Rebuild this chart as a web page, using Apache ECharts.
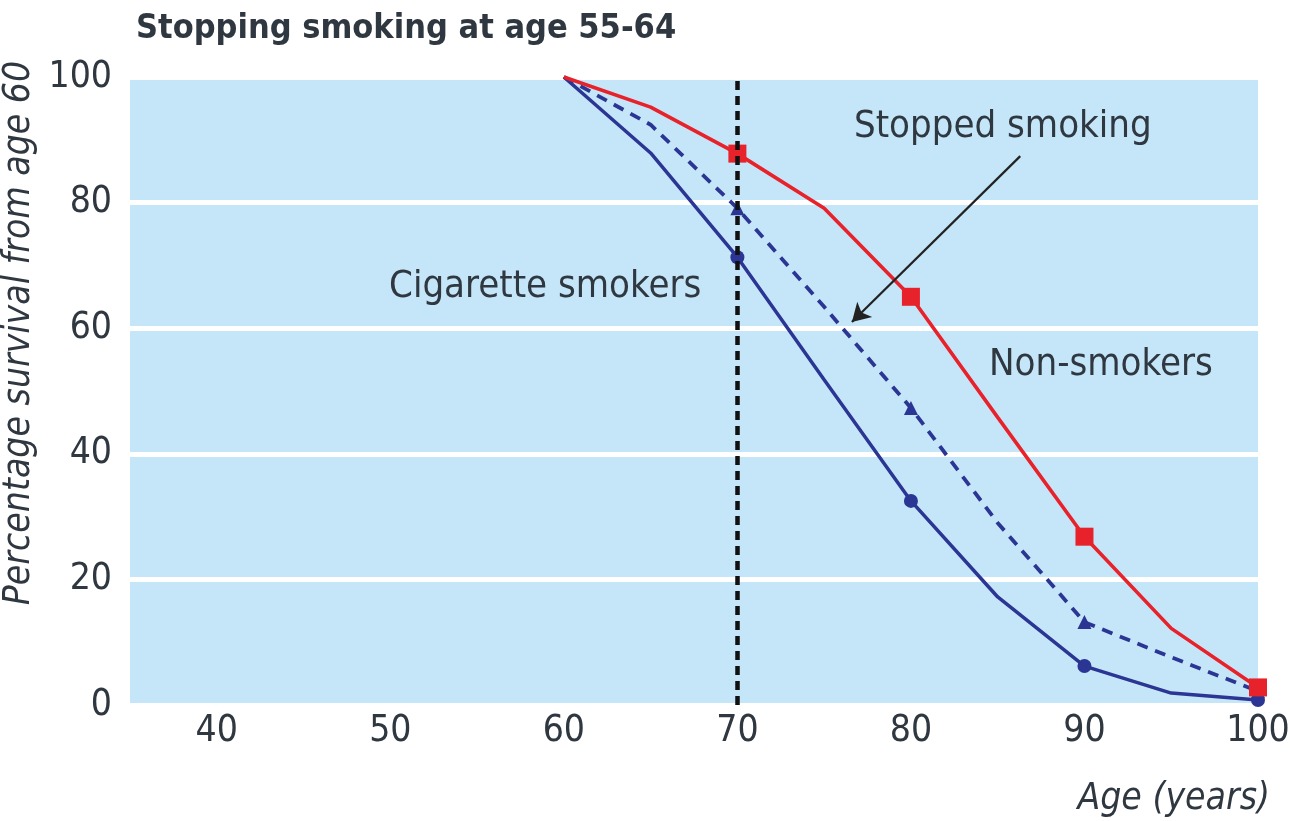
<!DOCTYPE html>
<html>
<head>
<meta charset="utf-8">
<script src="https://cdn.jsdelivr.net/npm/echarts@6/dist/echarts.min.js"></script>
<style>
html,body{margin:0;padding:0;background:#fff;}
#main{width:1290px;height:821px;}
</style>
</head>
<body>
<div id="main"></div>
<script>
// Data
const ages = [60, 65, 70, 75, 80, 85, 90, 95, 100];
const nonSmokers = [100, 95.2, 87.8, 79.1, 65, 45.8, 26.8, 12.2, 2.8];
const smokers = [100, 87.9, 71.3, 51.8, 32.5, 17.2, 6.2, 1.9, 0.8];
const stoppedSmoking = [100, 92.4, 79.1, 63.4, 47.3, 29, 13.2, 7.6, 2.2];
const xTicks = [40, 50, 60, 70, 80, 90, 100];
const yTicks = [0, 20, 40, 60, 80, 100];
const markerAges = [70, 80, 90, 100];
const stopLineAge = 70;
const arrowFrom = [86.3, 87.4];
const arrowTo = [76.6, 61];

const FONT = "'Liberation Sans Narrow', 'DejaVu Sans Condensed', 'Liberation Sans', sans-serif";
const TXT = '#2f3740';
const BLUE = '#2b3593';
const RED = '#e8222b';

const pairs = (vals) => ages.map((a, i) => [a, vals[i]]);
const markerSize = (sz) => (v) => markerAges.indexOf(v[0]) >= 0 ? sz : 0;

const chart = echarts.init(document.getElementById('main'), null, {renderer: 'canvas'});
chart.setOption({
  animation: false,
  backgroundColor: '#ffffff',
  title: {
    text: 'Stopping smoking at age 55-64',
    left: 131, top: 7,
    textStyle: {fontFamily: FONT, fontWeight: 'bold', fontSize: 34, color: TXT}
  },
  grid: {
    left: 130, right: 32, top: 77, bottom: 116,
    outerBoundsMode: 'none', containLabel: false,
    show: true, backgroundColor: '#c4e6f8', borderWidth: 0
  },
  xAxis: {
    type: 'value', min: 35, max: 100, interval: 5,
    name: 'Age (years)', nameLocation: 'end',
    nameGap: 12,
    nameTextStyle: {fontFamily: FONT, fontStyle: 'italic', fontSize: 37, color: TXT,
      align: 'right', verticalAlign: 'top', padding: [76, 0, 0, 0]},
    axisLine: {show: false}, axisTick: {show: false},
    splitLine: {show: false},
    axisLabel: {
      fontFamily: FONT, fontSize: 37, color: TXT, margin: 8,
      formatter: (v) => xTicks.indexOf(v) >= 0 ? String(v) : ''
    }
  },
  yAxis: {
    type: 'value', min: 0, max: 100, interval: 20,
    name: 'Percentage survival from age 60', nameLocation: 'middle', nameGap: 80,
    nameTextStyle: {fontFamily: FONT, fontStyle: 'italic', fontSize: 37, color: TXT,
      padding: [0, 0, 0, 116]},
    axisLine: {show: false}, axisTick: {show: false},
    splitLine: {show: true, lineStyle: {color: '#ffffff', width: 5}},
    axisLabel: {
      fontFamily: FONT, fontSize: 37, color: TXT, margin: 18,
      formatter: (v) => yTicks.indexOf(v) >= 0 ? String(v) : ''
    }
  },
  series: [
    {
      name: 'Cigarette smokers', type: 'line', data: pairs(smokers),
      symbol: 'circle', symbolSize: markerSize(14), showAllSymbol: true,
      lineStyle: {color: BLUE, width: 3.5}, itemStyle: {color: BLUE}, z: 3
    },
    {
      name: 'Stopped smoking', type: 'line', data: pairs(stoppedSmoking),
      symbol: 'triangle', symbolSize: markerSize(14), showAllSymbol: true,
      lineStyle: {color: BLUE, width: 3.8, type: [11, 8]}, itemStyle: {color: BLUE}, z: 3,
      markLine: {
        silent: true, symbol: ['none', 'arrow'], symbolSize: [16, 18],
        lineStyle: {color: '#222222', width: 2.2, type: 'solid'},
        label: {show: false},
        data: [[{coord: arrowFrom}, {coord: arrowTo}]]
      }
    },
    {
      name: 'Non-smokers', type: 'line', data: pairs(nonSmokers),
      symbol: 'rect', symbolSize: markerSize(18), showAllSymbol: true,
      lineStyle: {color: RED, width: 3.6}, itemStyle: {color: RED}, z: 4,
      markLine: {
        silent: true, symbol: ['none', 'none'], z: 10,
        lineStyle: {color: '#111111', width: 4.5, type: [9, 6]},
        label: {show: false},
        data: [{xAxis: stopLineAge}]
      }
    }
  ],
  graphic: [
    {type: 'text', left: 854, top: 108, style: {text: 'Stopped smoking', font: "38px " + FONT, fill: TXT}},
    {type: 'text', left: 389, top: 268, style: {text: 'Cigarette smokers', font: "38px " + FONT, fill: TXT}},
    {type: 'text', left: 989, top: 346, style: {text: 'Non-smokers', font: "38px " + FONT, fill: TXT}}
  ]
});
</script>
</body>
</html>
